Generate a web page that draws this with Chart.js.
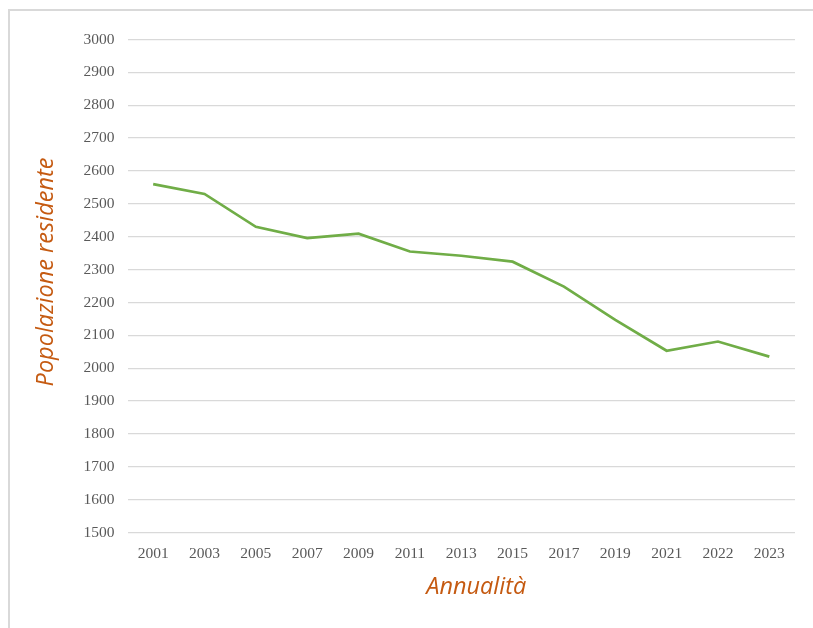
<!DOCTYPE html>
<html>
<head>
<meta charset="utf-8">
<script src="https://cdn.jsdelivr.net/npm/chart.js@4.4.1/dist/chart.umd.min.js"></script>
<style>
  html, body { margin: 0; padding: 0; background: #ffffff; }
  #wrap { position: relative; width: 813px; height: 628px; overflow: hidden; }
  #frame { position: absolute; left: 8px; top: 9px; width: 900px; height: 800px; border: 2px solid #d9d9d9; box-sizing: border-box; }
  canvas { position: absolute; left: 0; top: 0; }
</style>
</head>
<body>
<div id="wrap">
  <div id="frame"></div>
  <canvas id="c" width="813" height="628"></canvas>
</div>
<script>
const years = ['2001','2003','2005','2007','2009','2011','2013','2015','2017','2019','2021','2022','2023'];
const population = [2560, 2530, 2430, 2396, 2409, 2355, 2342, 2324, 2248, 2147, 2053, 2081, 2035];
const yMin = 1500;
const yMax = 3000;
const yStep = 100;
const xTitle = 'Annualità';
const yTitle = 'Popolazione residente';

const titleColor = '#C55A11';
const titleFont = 'italic 23.5px "Open Sans"';

const axisTitles = {
  id: 'axisTitles',
  afterDraw(chart) {
    const ctx = chart.ctx;
    const a = chart.chartArea;
    ctx.save();
    ctx.fillStyle = titleColor;
    ctx.font = titleFont;
    ctx.textAlign = 'center';
    ctx.textBaseline = 'middle';
    ctx.fillText(xTitle, (a.left + a.right) / 2 + 15, a.bottom + 55);
    ctx.translate(46, (a.top + a.bottom) / 2 - 14);
    ctx.rotate(-Math.PI / 2);
    ctx.fillText(yTitle, 0, 0);
    ctx.restore();
  }
};

new Chart(document.getElementById('c'), {
  type: 'line',
  data: {
    labels: years,
    datasets: [{
      data: population,
      borderColor: '#70AD47',
      borderWidth: 2.7,
      pointRadius: 0,
      pointHoverRadius: 0,
      tension: 0,
      fill: false
    }]
  },
  options: {
    responsive: false,
    animation: false,
    devicePixelRatio: 1,
    layout: { padding: { left: 0, right: 18, top: 39.5, bottom: 0 } },
    plugins: { legend: { display: false }, tooltip: { enabled: false } },
    scales: {
      x: {
        offset: true,
        grid: { display: false, drawTicks: false },
        border: { display: false },
        ticks: { color: '#595959', font: { family: '"Liberation Serif"', size: 15.5 }, padding: 12, maxRotation: 0, autoSkip: false },
        afterFit(scale) { scale.height = 95.5; }
      },
      y: {
        min: yMin,
        max: yMax,
        grid: { color: '#d9d9d9', lineWidth: 1.3, drawTicks: false },
        border: { display: false },
        ticks: { stepSize: yStep, color: '#595959', font: { family: '"Liberation Serif"', size: 15.5 }, padding: 13,
                 callback: (v) => String(v) },
        afterFit(scale) { scale.width = 127.5; }
      }
    }
  },
  plugins: [axisTitles]
});
</script>
</body>
</html>
